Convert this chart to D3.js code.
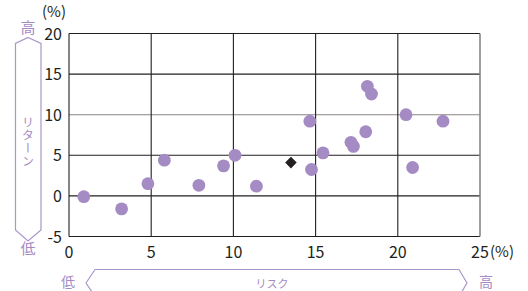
<!DOCTYPE html>
<html>
<head>
<meta charset="utf-8">
<script src="https://cdnjs.cloudflare.com/ajax/libs/d3/7.8.5/d3.min.js"></script>
<style>
  body { margin: 0; background: #fff; }
  text { font-family: "Noto Sans CJK JP", "Noto Sans", sans-serif; }
</style>
</head>
<body>
<div id="chart"></div>
<script>
// funds: risk (x) and return (y), in %
var risk = [0.9, 3.2, 4.8, 5.8, 7.9, 9.4, 10.1, 11.4, 14.65, 14.75, 15.45, 17.15, 17.3, 18.05, 18.15, 18.4, 20.5, 20.9, 22.75];
var ret  = [-0.1, -1.6, 1.5, 4.4, 1.3, 3.7, 5.0, 1.2, 9.2, 3.25, 5.3, 6.6, 6.1, 7.9, 13.5, 12.55, 10.0, 3.5, 9.2];
// highlighted fund (diamond)
var markRisk = [13.5];
var markRet = [4.1];

var xTicks = [0, 5, 10, 15, 20, 25];
var yTicks = [-5, 0, 5, 10, 15, 20];

var purple = "#a58bc3";
var lineCol = "#a996cc";
var ink = "#231f20";

var W = 528, H = 291;
var svg = d3.select("#chart").append("svg")
    .attr("width", W).attr("height", H);

var x = d3.scaleLinear().domain([0, 25]).range([69, 480]);
var y = d3.scaleLinear().domain([-5, 20]).range([236.5, 33.5]);

// grid
var g = svg.append("g");
g.selectAll(".hg").data(yTicks).enter().append("line")
    .attr("x1", x(0)).attr("x2", x(25))
    .attr("y1", d => y(d)).attr("y2", d => y(d))
    .attr("stroke", d => d == 10 ? "#8a8584" : ink)
    .attr("stroke-width", 1.1);
g.selectAll(".vg").data(xTicks).enter().append("line")
    .attr("y1", y(-5)).attr("y2", y(20))
    .attr("x1", d => x(d)).attr("x2", d => x(d))
    .attr("stroke", d => d == 25 ? "#8a8584" : ink)
    .attr("stroke-width", d => d == 25 ? 1.6 : 1.1);

// tick labels
svg.selectAll(".yl").data(yTicks).enter().append("text")
    .attr("x", 62).attr("y", d => y(d) + 6)
    .attr("text-anchor", "end")
    .attr("font-size", 16).attr("fill", ink)
    .text(d => d);
svg.append("text").attr("x", 42).attr("y", 17)
    .attr("font-size", 15).attr("fill", ink).text("(%)");

svg.selectAll(".xl").data(xTicks).enter().append("text")
    .attr("x", d => x(d)).attr("y", 258)
    .attr("text-anchor", "middle")
    .attr("font-size", 16).attr("fill", ink)
    .text(d => d);
svg.append("text").attr("x", 490).attr("y", 257)
    .attr("font-size", 15).attr("fill", ink).text("(%)");

// points
svg.append("g").selectAll("circle").data(risk).enter().append("circle")
    .attr("cx", d => x(d))
    .attr("cy", (d, i) => y(ret[i]))
    .attr("r", 6.4)
    .attr("fill", purple);

svg.append("g").selectAll("path").data(markRisk).enter().append("path")
    .attr("d", d3.symbol().type(d3.symbolDiamond2).size(85))
    .attr("transform", (d, i) => "translate(" + x(d) + "," + y(markRet[i]) + ")")
    .attr("fill", ink);

// left return arrow
svg.append("path")
    .attr("d", "M28,37.5 L41,43.5 L41,230 L28,241 L15.5,230 L15.5,43.5 Z")
    .attr("fill", "none").attr("stroke", lineCol).attr("stroke-width", 1.2);
svg.append("text").attr("x", 28).attr("y", 33)
    .attr("text-anchor", "middle").attr("font-size", 15).attr("fill", purple).text("高");
svg.append("text").attr("x", 28).attr("y", 254)
    .attr("text-anchor", "middle").attr("font-size", 15).attr("fill", purple).text("低");
svg.append("text")
    .attr("x", 28).attr("y", 142)
    .attr("text-anchor", "middle")
    .attr("writing-mode", "vertical-rl")
    .attr("font-size", 12).attr("fill", purple)
    .attr("letter-spacing", 1)
    .text("リターン");

// bottom risk arrow
svg.append("path")
    .attr("d", "M86,283 L95,269.5 L459,269.5 L467,283 L459,296.5 L95,296.5 Z")
    .attr("fill", "none").attr("stroke", lineCol).attr("stroke-width", 1.2);
svg.append("text").attr("x", 68).attr("y", 287)
    .attr("text-anchor", "middle").attr("font-size", 14).attr("fill", purple).text("低");
svg.append("text").attr("x", 486).attr("y", 287)
    .attr("text-anchor", "middle").attr("font-size", 14).attr("fill", purple).text("高");
svg.append("text").attr("x", 272).attr("y", 288)
    .attr("text-anchor", "middle").attr("font-size", 11).attr("fill", purple).text("リスク");
</script>
</body>
</html>
